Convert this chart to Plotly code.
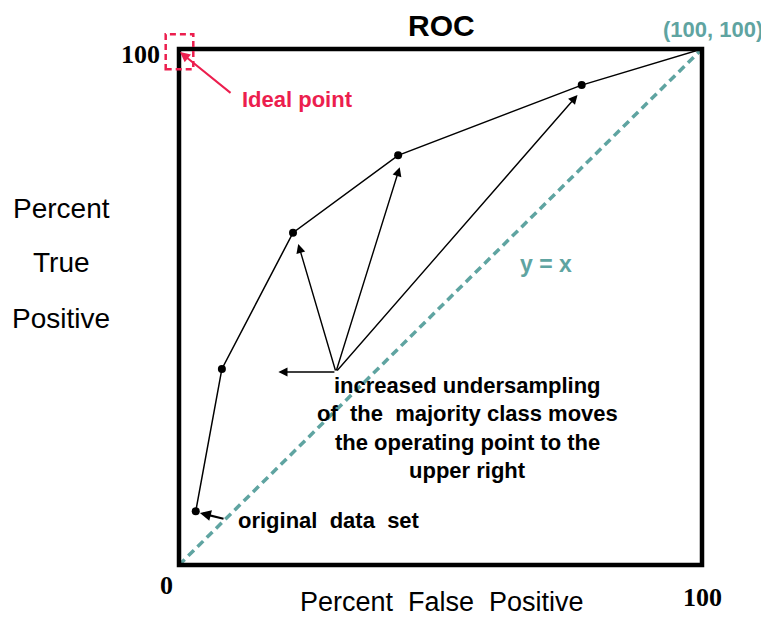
import plotly.graph_objects as go

# ---- data ----
fp_pct = [3.2, 8.2, 21.8, 41.9, 77.0, 100]
tp_pct = [10.4, 38.0, 64.4, 79.4, 93.0, 100]
diag_x = [0, 100]
diag_y = [0, 100]
arrow_origin = (30.0, 37.4)
arrow_tips_x = [19.0, 22.8, 42.2, 76.2]
arrow_tips_y = [37.4, 62.2, 77.1, 91.1]
orig_arrow_tail = (8.8, 8.9)
orig_arrow_head = (4.0, 10.1)
note_lines = ["increased undersampling",
              "of\u00a0 the\u00a0 majority class moves",
              "the operating point to the",
              "upper right"]

RED = "#EC1E4E"
TEAL = "#5FA4A1"
SANS = "Liberation Sans, Arial, Helvetica, sans-serif"
SERIF = "Liberation Serif, Times New Roman, serif"

# page body has an 8px margin; plot area spans screen x 179..702, y 49..565
OFF = 8
PL, PT, PW, PH = 179, 49, 523, 516
W, H = 769 - OFF, 619 - OFF


def px2paper(px, py):
    return (px - PL) / PW, (PT + PH - py) / PH


fig = go.Figure()

fig.add_trace(go.Scatter(x=diag_x, y=diag_y, mode="lines",
                         line=dict(color=TEAL, width=3.5, dash="8px,5px"),
                         hoverinfo="skip", showlegend=False))

fig.add_trace(go.Scatter(x=fp_pct, y=tp_pct, mode="lines",
                         line=dict(color="black", width=1.5),
                         showlegend=False, cliponaxis=False))
fig.add_trace(go.Scatter(x=fp_pct[:-1], y=tp_pct[:-1], mode="markers",
                         marker=dict(color="black", size=8),
                         showlegend=False, cliponaxis=False))

annotations = []
for tx, ty in zip(arrow_tips_x, arrow_tips_y):
    annotations.append(dict(x=tx, y=ty, xref="x", yref="y",
                            ax=arrow_origin[0], ay=arrow_origin[1], axref="x", ayref="y",
                            text="", showarrow=True, arrowhead=2, arrowsize=1.3,
                            arrowwidth=1.4, arrowcolor="black", standoff=0))

annotations.append(dict(x=orig_arrow_head[0], y=orig_arrow_head[1], xref="x", yref="y",
                        ax=orig_arrow_tail[0], ay=orig_arrow_tail[1], axref="x", ayref="y",
                        text="", showarrow=True, arrowhead=2, arrowsize=1.0,
                        arrowwidth=2.2, arrowcolor="black", standoff=0))

# ideal point arrow
annotations.append(dict(x=0.2, y=99.4, xref="x", yref="y", ax=52, ay=42,
                        text="", showarrow=True, arrowhead=2, arrowsize=1.0,
                        arrowwidth=2, arrowcolor=RED, standoff=0))


def txt(px, py, s, size, color="black", family=SANS, xanchor="center"):
    x, y = px2paper(px, py)
    annotations.append(dict(x=x, y=y, xref="paper", yref="paper",
                            text=s, showarrow=False, xanchor=xanchor, yanchor="middle",
                            font=dict(family=family, size=size, color=color)))


note_y_px = [385, 413.5, 442, 470.5]
for line, py in zip(note_lines, note_y_px):
    txt(467, py, "<b>" + line + "</b>", 22)

txt(236, 520, "<b>original\u00a0 data\u00a0 set</b>", 22, xanchor="left")
txt(240, 100, "<b>Ideal point</b>", 22, color=RED, xanchor="left")
txt(713, 30, "<b>(100, 100)</b>", 22, color=TEAL)
txt(546, 264, "<b>y = x</b>", 23, color=TEAL)
txt(441, 26, "<b>ROC</b>", 30)
txt(140, 54, "<b>100</b>", 26, family=SERIF)
txt(166, 585, "<b>0</b>", 26, family=SERIF)
txt(702, 597, "<b>100</b>", 26, family=SERIF)
txt(442, 602, "Percent\u00a0 False\u00a0 Positive", 27)
txt(61, 208, "Percent", 28)
txt(61, 263, "True", 28)
txt(61, 318, "Positive", 28)

rx0, ry1 = px2paper(165.7, 34.3)
rx1, ry0 = px2paper(193.3, 69.3)
shapes = [
    dict(type="rect", xref="paper", yref="paper", x0=0, y0=0, x1=1, y1=1,
         line=dict(color="black", width=4.5), layer="above"),
    dict(type="rect", xref="paper", yref="paper", x0=rx0, x1=rx1,
         y0=ry0, y1=ry1, line=dict(color=RED, width=2.5, dash="6px,4px")),
]

fig.update_layout(
    width=W, height=H,
    margin=dict(l=PL - OFF, r=W - (PL - OFF) - PW, t=PT - OFF, b=H - (PT - OFF) - PH),
    paper_bgcolor="white", plot_bgcolor="white",
    xaxis=dict(range=[0, 100], visible=False, fixedrange=True),
    yaxis=dict(range=[0, 100], visible=False, fixedrange=True),
    annotations=annotations, shapes=shapes, showlegend=False,
)

fig.write_html("out.html")
